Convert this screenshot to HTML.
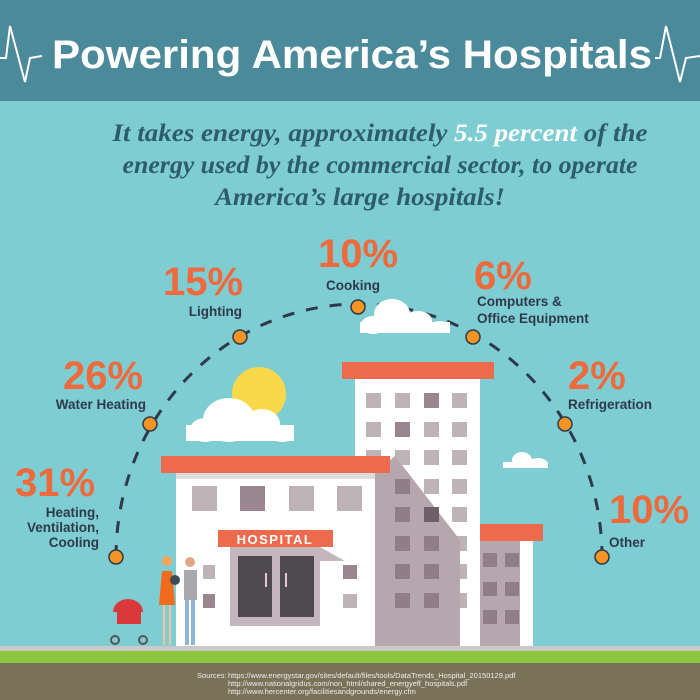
<!DOCTYPE html>
<html><head><meta charset="utf-8"><style>
body{margin:0;width:700px;height:700px;overflow:hidden;background:#7ecdd3}
svg{display:block}
.p{font-family:"Liberation Sans",sans-serif;font-weight:bold;fill:#ee6a3c;font-size:40px}
.l{font-family:"Liberation Sans",sans-serif;font-weight:bold;fill:#2e3a4a;font-size:13.5px}
</style></head><body>
<svg width="700" height="700" viewBox="0 0 700 700">
<rect width="700" height="701" fill="#7ecdd3"/>
<rect width="700" height="101" fill="#4a8a9a"/>
<polyline points="0,58 6,58 10,26 25,82 30,58 42,56" fill="none" stroke="#fff" stroke-width="2"/>
<polyline points="655,58 660,58 666,26 680,82 686,58 700,56" fill="none" stroke="#fff" stroke-width="2"/>
<text x="352" y="68" text-anchor="middle" textLength="600" lengthAdjust="spacingAndGlyphs" font-family="Liberation Sans,sans-serif" font-weight="bold" font-size="40" fill="#fff">Powering America’s Hospitals</text>
<g font-family="Liberation Serif,serif" font-style="italic" font-weight="bold" font-size="25" fill="#2d5c6b" text-anchor="middle">
<text x="380" y="141" textLength="535" lengthAdjust="spacingAndGlyphs">It takes energy, approximately <tspan fill="#fff">5.5 percent</tspan> of the</text>
<text x="380" y="173" textLength="515" lengthAdjust="spacingAndGlyphs">energy used by the commercial sector, to operate</text>
<text x="360" y="205" textLength="290" lengthAdjust="spacingAndGlyphs">America’s large hospitals!</text>
</g>
<path d="M116,557 A243 253 0 0 1 602,557" fill="none" stroke="#2e3a4a" stroke-width="3" stroke-dasharray="12,12"/>
<g fill="#f39425" stroke="#2e3a4a" stroke-width="1.5">
<circle cx="116" cy="557" r="7"/><circle cx="150" cy="424" r="7"/><circle cx="240" cy="337" r="7"/><circle cx="358" cy="307" r="7"/><circle cx="473" cy="337" r="7"/><circle cx="565" cy="424" r="7"/><circle cx="602" cy="557" r="7"/>
</g>
<text class="p" x="15" y="496">31%</text>
<text class="l" x="99" y="517" text-anchor="end">Heating,</text><text class="l" x="99" y="532" text-anchor="end">Ventilation,</text><text class="l" x="99" y="547" text-anchor="end">Cooling</text>
<text class="p" x="63" y="389">26%</text><text class="l" x="146" y="409" text-anchor="end">Water Heating</text>
<text class="p" x="163" y="295">15%</text><text class="l" x="242" y="316" text-anchor="end">Lighting</text>
<text class="p" x="318" y="267">10%</text><text class="l" x="326" y="290">Cooking</text>
<text class="p" x="474" y="289">6%</text><text class="l" x="477" y="306">Computers &amp;</text><text class="l" x="477" y="323">Office Equipment</text>
<text class="p" x="568" y="389">2%</text><text class="l" x="568" y="409">Refrigeration</text>
<text class="p" x="609" y="523">10%</text><text class="l" x="609" y="547">Other</text>
<circle cx="259" cy="394" r="27" fill="#f9d84a"/>
<g fill="#fff">
<ellipse cx="229" cy="420" rx="26" ry="22"/><ellipse cx="262" cy="424" rx="18" ry="15"/><ellipse cx="205" cy="430" rx="15" ry="12"/><ellipse cx="282" cy="434" rx="12" ry="8"/><rect x="186" y="425" width="108" height="16"/>
<ellipse cx="392" cy="314" rx="18" ry="15"/><ellipse cx="373" cy="325" rx="12" ry="9"/><ellipse cx="418" cy="321" rx="14" ry="10"/><rect x="360" y="322" width="90" height="11"/><ellipse cx="440" cy="327" rx="10" ry="6"/>
<ellipse cx="522" cy="460" rx="10" ry="8"/><ellipse cx="538" cy="463" rx="9" ry="5"/><rect x="503" y="462" width="45" height="6"/>
</g>
<rect x="355" y="379" width="125" height="267" fill="#fff"/>
<rect x="342" y="362" width="152" height="17" fill="#ee6a4c"/>
<g fill="#c0b3b8">
<rect x="366" y="393" width="15" height="15"/><rect x="395" y="393" width="15" height="15"/><rect x="424" y="393" width="15" height="15" fill="#9a868e"/><rect x="452" y="393" width="15" height="15"/>
<rect x="366" y="422" width="15" height="15"/><rect x="395" y="422" width="15" height="15" fill="#9a868e"/><rect x="424" y="422" width="15" height="15"/><rect x="452" y="422" width="15" height="15"/>
<rect x="366" y="450" width="15" height="15"/><rect x="395" y="450" width="15" height="15"/><rect x="424" y="450" width="15" height="15"/><rect x="452" y="450" width="15" height="15"/>
<rect x="424" y="479" width="15" height="15"/><rect x="452" y="479" width="15" height="15"/>
<rect x="452" y="507" width="15" height="15"/><rect x="452" y="536" width="15" height="15"/><rect x="452" y="564" width="15" height="15"/><rect x="452" y="593" width="15" height="15"/>
</g>
<polygon points="375,473 395,456 460,540 460,646 375,646" fill="#b6a6ad"/>
<g fill="#8f7e86">
<rect x="395" y="479" width="15" height="15"/><rect x="395" y="507" width="15" height="15"/><rect x="424" y="507" width="15" height="15" fill="#6f5f67"/>
<rect x="395" y="536" width="15" height="15"/><rect x="424" y="536" width="15" height="15"/><rect x="395" y="564" width="15" height="15"/><rect x="424" y="564" width="15" height="15"/><rect x="395" y="593" width="15" height="15"/><rect x="424" y="593" width="15" height="15"/>
</g>
<rect x="480" y="541" width="53" height="105" fill="#fff"/>
<rect x="480" y="541" width="40" height="105" fill="#b6a6ad"/>
<rect x="480" y="524" width="63" height="17" fill="#ee6a4c"/>
<g fill="#8f7e86"><rect x="483" y="553" width="14" height="14"/><rect x="505" y="553" width="14" height="14"/><rect x="483" y="582" width="14" height="14"/><rect x="505" y="582" width="14" height="14"/><rect x="483" y="610" width="14" height="14"/><rect x="505" y="610" width="14" height="14"/></g>
<rect x="176" y="473" width="199" height="173" fill="#fff"/>
<rect x="176" y="473" width="199" height="6" fill="#ddd"/>
<rect x="161" y="456" width="229" height="17" fill="#ee6a4c"/>
<g fill="#c0b3b8"><rect x="192" y="486" width="25" height="25"/><rect x="240" y="486" width="25" height="25" fill="#9a868e"/><rect x="289" y="486" width="25" height="25"/><rect x="337" y="486" width="25" height="25"/>
<rect x="343" y="565" width="14" height="14" fill="#9a868e"/><rect x="343" y="594" width="14" height="14"/><rect x="203" y="565" width="12" height="14"/><rect x="203" y="594" width="12" height="14" fill="#9a868e"/></g>
<polygon points="230,547 320,547 345,561 320,561 320,626 230,626" fill="#c4b6bc"/>
<rect x="238" y="556" width="34" height="61" fill="#4f4a50"/><rect x="280" y="556" width="34" height="61" fill="#4f4a50"/>
<rect x="265" y="573" width="2" height="14" fill="#e8c4cf"/><rect x="285" y="573" width="2" height="14" fill="#e8c4cf"/>
<rect x="218" y="530" width="115" height="17" fill="#ee6a4c"/>
<text x="275" y="544" text-anchor="middle" font-family="Liberation Sans,sans-serif" font-weight="bold" font-size="13" fill="#fff" letter-spacing="1.5">HOSPITAL</text>
<circle cx="167" cy="561" r="5" fill="#f2a35c"/><path d="M162,571 h10 l3,34 h-16z" fill="#f26a1b"/><rect x="163" y="605" width="2" height="40" fill="#f2c29c"/><rect x="169" y="605" width="2" height="40" fill="#f2c29c"/>
<circle cx="190" cy="562" r="5" fill="#e0a887"/><rect x="184" y="570" width="13" height="30" fill="#a9a9ad"/><rect x="185" y="600" width="4" height="45" fill="#8fb5d3"/><rect x="191" y="600" width="4" height="45" fill="#8fb5d3"/>
<circle cx="175" cy="580" r="5" fill="#3f4a57"/>
<path d="M113,612 a15 13 0 0 1 30,0z" fill="#d9393a"/><circle cx="115" cy="640" r="4" fill="none" stroke="#555" stroke-width="2"/><circle cx="143" cy="640" r="4" fill="none" stroke="#555" stroke-width="2"/><rect x="117" y="612" width="24" height="12" fill="#d9393a"/>
<rect x="0" y="646" width="700" height="5" fill="#c9c9c9"/>
<rect x="0" y="651" width="700" height="12" fill="#8dc63f"/>
<rect x="0" y="663" width="700" height="37" fill="#7a7158"/>
<g font-family="Liberation Sans,sans-serif" font-size="7.5" fill="#eee">
<text x="197" y="678">Sources:</text>
<text x="228" y="678">https://www.energystar.gov/sites/default/files/tools/DataTrends_Hospital_20150129.pdf</text>
<text x="228" y="686">http://www.nationalgridus.com/non_html/shared_energyeff_hospitals.pdf</text>
<text x="228" y="694">http://www.hercenter.org/facilitiesandgrounds/energy.cfm</text>
</g>
</svg>
</body></html>
